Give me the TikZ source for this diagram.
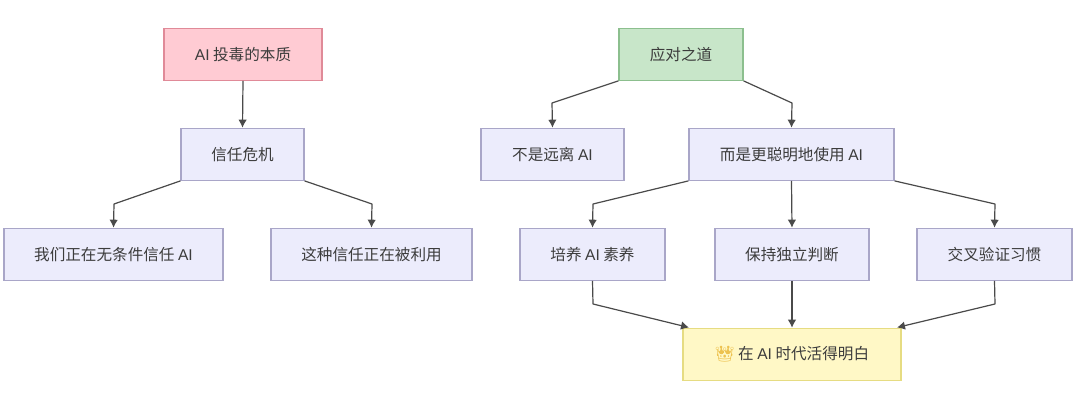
\documentclass[tikz,border=0pt]{standalone}
\usepackage{fontspec}
\setmainfont{Noto Sans CJK SC}
\newfontfamily\latinf{Liberation Sans}
\newfontfamily\emojif{Noto Emoji}
\usetikzlibrary{arrows.meta}
\definecolor{txt}{HTML}{3C3C3C}
\definecolor{edge}{HTML}{4A4A4A}
\definecolor{lav}{HTML}{ECECFC}
\definecolor{lavb}{HTML}{A9A6C8}
\definecolor{pinkf}{HTML}{FFCBD3}
\definecolor{pinkb}{HTML}{E08A98}
\definecolor{greenf}{HTML}{C8E6C9}
\definecolor{greenb}{HTML}{8CBF8E}
\definecolor{yelf}{HTML}{FFF8C6}
\definecolor{yelb}{HTML}{E6DC82}
\definecolor{crown}{HTML}{EDC24F}
\newcommand{\AIt}{{\latinf AI}}
\tikzset{
  x=1pt,y=-1pt,
  boxn/.style={draw=lavb,fill=lav,line width=1.2pt,text=txt,font=\fontsize{15.6}{18}\selectfont,inner sep=0pt,minimum height=52pt,anchor=center},
  pinkn/.style={boxn,draw=pinkb,fill=pinkf},
  greenn/.style={boxn,draw=greenb,fill=greenf},
  yeln/.style={boxn,draw=yelb,fill=yelf},
  conn/.style={draw=edge,line width=1.2pt,-{Latex[length=8pt,width=8.5pt]},line join=round}
}
\begin{document}
\begin{tikzpicture}
\useasboundingbox[fill=white] (0,0) rectangle (1080,401);
\node[pinkn,minimum width=158pt] (a1) at (243,54.3) {\AIt{} 投毒的本质};
\node[boxn,minimum width=123pt] (a2) at (242.5,154.3) {信任危机};
\node[boxn,minimum width=219pt] (a3) at (113.5,254.3) {我们正在无条件信任 \AIt};
\node[boxn,minimum width=201pt] (a4) at (371.5,254.3) {这种信任正在被利用};
\node[greenn,minimum width=124pt] (b1) at (681,54.3) {应对之道};
\node[boxn,minimum width=143pt] (b2) at (552.5,154.3) {不是远离 \AIt};
\node[boxn,minimum width=205pt] (b3) at (791.5,154.3) {而是更聪明地使用 \AIt};
\node[boxn,minimum width=145pt] (c1) at (592.5,254.3) {培养 \AIt{} 素养};
\node[boxn,minimum width=154pt] (c2) at (792,254.3) {保持独立判断};
\node[boxn,minimum width=155pt] (c3) at (994.5,254.3) {交叉验证习惯};
\node[yeln,minimum width=218pt] (d) at (792,354.3) {{\emojif\textcolor{crown}{\char"1F451}} 在 \AIt{} 时代活得明白};
\coordinate (k1) at (114,204);
\coordinate (k2) at (372,204);
\coordinate (k3) at (552,103);
\coordinate (k4) at (792,103);
\coordinate (k5) at (593,204);
\coordinate (k6) at (995,204);
\coordinate (k7) at (593,304);
\coordinate (k8) at (995,304);
\coordinate (e1) at (689,327.5);
\coordinate (e2) at (897,327.5);
\draw[conn] (a1.south) -- (a2.north);
\draw[conn] (a2.south west) -- (k1) -- (a3.north);
\draw[conn] (a2.south east) -- (k2) -- (a4.north);
\draw[conn] (b1.south west) -- (k3) -- (b2.north);
\draw[conn] (b1.south east) -- (k4) -- (b3.north);
\draw[conn] (b3.south west) -- (k5) -- (c1.north);
\draw[conn] (b3.south) -- (c2.north);
\draw[conn] (b3.south east) -- (k6) -- (c3.north);
\draw[conn] (c1.south) -- (k7) -- (e1);
\draw[conn] (c2.south) -- (d.north);
\draw[conn] (c3.south) -- (k8) -- (e2);
\end{tikzpicture}
\end{document}
